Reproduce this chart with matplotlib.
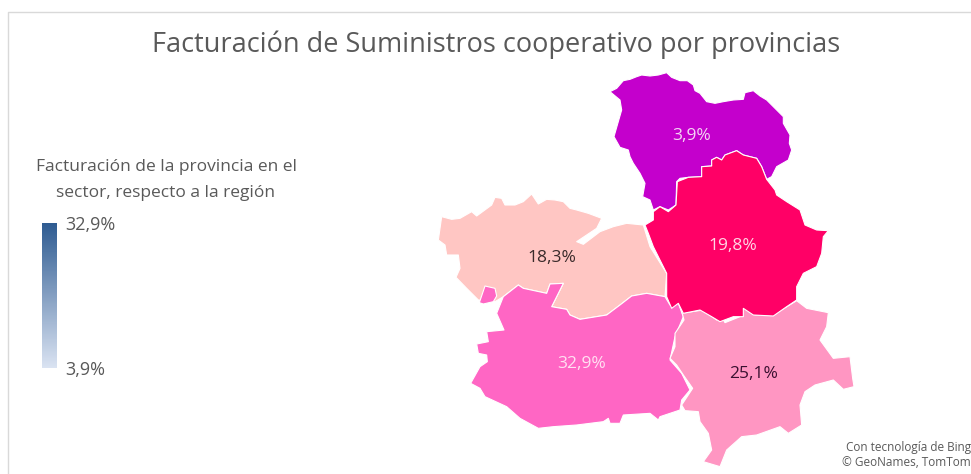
#!/usr/bin/python3
import numpy as np
from matplotlib import pyplot as plt
from matplotlib.colors import LinearSegmentedColormap

plt.rcParams['font.family'] = ['Open Sans', 'DejaVu Sans']

title = "Facturación de Suministros cooperativo por provincias"
legend_title = ["Facturación de la provincia en el", "sector, respecto a la región"]
legend_max = "32,9%"
legend_min = "3,9%"
credit = ["Con tecnología de Bing", "© GeoNames, TomTom"]

labels = ["3,9%", "19,8%", "18,3%", "32,9%", "25,1%"]
label_x = [692, 733, 552, 582, 754]
label_y = [136, 246, 258, 364, 374]
label_colors = ["#F5D5F5", "#FFD5E5", "#3A2A2A", "#FFE0F2", "#3A1030"]

# Outlines, in zoomed crop coordinates
guadalajara = [(30, 95), (50, 85), (70, 62), (90, 58), (110, 50), (125, 45), (150, 48), (175, 45),
               (200, 38), (215, 52), (240, 62), (262, 62), (280, 75), (285, 92), (300, 100),
               (320, 125), (345, 130), (370, 125), (400, 120), (430, 118), (435, 98), (460, 92),
               (480, 108), (500, 120), (525, 145), (550, 170), (550, 190), (570, 225), (568, 250),
               (575, 270), (565, 300), (530, 320), (515, 350), (500, 358), (485, 320), (470, 295),
               (430, 285), (410, 272), (375, 285), (365, 300), (350, 292), (335, 300), (335, 318),
               (305, 320), (305, 350), (265, 352), (240, 355), (230, 365), (228, 435), (205, 450),
               (180, 440), (160, 450), (150, 420), (128, 410), (135, 370), (120, 340), (100, 310),
               (90, 290), (85, 270), (60, 262), (42, 230), (52, 195), (65, 150), (60, 120)]
cuenca = [(135, 495), (160, 480), (160, 455), (180, 440), (205, 455), (228, 435), (232, 365),
          (265, 352), (305, 350), (305, 320), (335, 318), (335, 300), (350, 292), (365, 300),
          (375, 285), (410, 272), (430, 285), (470, 295), (485, 320), (500, 358), (525, 390),
          (530, 405), (560, 425), (600, 450), (615, 495), (650, 510), (685, 512), (670, 530),
          (665, 580), (650, 620), (610, 640), (590, 680), (590, 720), (560, 740), (520, 768),
          (460, 765), (430, 745), (430, 770), (400, 770), (360, 785), (335, 770), (300, 750),
          (250, 760), (235, 730), (215, 745), (200, 710), (200, 640), (160, 560), (145, 520)]
toledo = [(25, 150), (35, 80), (65, 88), (90, 85), (125, 65), (140, 78), (185, 45), (195, 22),
          (215, 25), (225, 45), (255, 45), (280, 35), (305, 12), (325, 42), (350, 28), (375, 30),
          (400, 35), (420, 55), (440, 60), (475, 70), (515, 85), (500, 115), (440, 155), (460, 163),
          (510, 125), (550, 110), (590, 100), (640, 105), (660, 170), (710, 250), (705, 320),
          (650, 310), (605, 318), (570, 345), (530, 375), (450, 388), (420, 375), (410, 358),
          (365, 350), (380, 320), (400, 280), (360, 282), (350, 310), (280, 295), (265, 285),
          (220, 320), (195, 335), (145, 330), (110, 295), (78, 262), (90, 235), (85, 195),
          (50, 195), (45, 165)]
enclave = [(148, 338), (165, 288), (195, 295), (200, 318), (190, 335), (160, 342)]
ciudad_real = [(122, 580), (150, 530), (172, 515), (170, 495), (145, 490), (140, 462), (175, 455),
               (170, 425), (222, 420), (200, 370), (220, 320), (265, 285), (280, 295), (350, 310),
               (360, 282), (400, 280), (380, 320), (365, 350), (410, 358), (420, 375), (450, 388),
               (530, 375), (570, 345), (605, 318), (650, 310), (705, 320), (720, 345), (745, 340),
               (760, 380), (735, 440), (720, 510), (755, 550), (780, 600), (755, 630), (750, 660),
               (690, 680), (685, 690), (660, 670), (580, 675), (570, 700), (540, 700), (535, 685),
               (520, 695), (440, 705), (370, 710), (325, 715), (270, 685), (230, 650), (165, 620),
               (150, 595)]
albacete = [(30, 205), (45, 170), (45, 130), (72, 90), (60, 45), (75, 68), (130, 60), (170, 90),
            (185, 80), (195, 98), (240, 80), (250, 55), (270, 55), (285, 75), (340, 75), (410, 32),
            (440, 55), (505, 68), (500, 110), (480, 150), (520, 205), (570, 200), (578, 265),
            (582, 290), (550, 298), (520, 270), (465, 285), (435, 305), (420, 345), (425, 405),
            (385, 430), (360, 410), (290, 435), (245, 440), (200, 480), (180, 530), (130, 515),
            (155, 480), (145, 430), (120, 395), (115, 365), (75, 362), (65, 345), (98, 295),
            (70, 255), (50, 225)]


def crop(points, x0, y0):
    # crops were scaled 3x
    return [x0 + x / 3 for x, y in points], [y0 + y / 3 for x, y in points]


fig = plt.figure(figsize=(9.71, 4.74), dpi=100)
ax = fig.add_axes([0, 0, 1, 1])

# chart frame, open to the right and bottom
ax.plot([8, 8, 971], [474, 12, 12], color="#D9D9D9", lw=1)

shapes = [(toledo, 430, 190, "#FFC6C3"), (enclave, 430, 190, "#FF66C4"),
          (ciudad_real, 430, 190, "#FF66C4"), (albacete, 660, 290, "#FF96C2"),
          (guadalajara, 600, 60, "#C400CC"), (cuenca, 600, 60, "#FF0066")]
for points, x0, y0, color in shapes:
    xs, ys = crop(points, x0, y0)
    ax.fill(xs, ys, facecolor=color, edgecolor="white", lw=0.8, joinstyle='round')

for text, x, y, color in zip(labels, label_x, label_y, label_colors):
    ax.text(x, y, text, color=color, fontsize=12.5, ha='center', va='center')

ax.text(496, 45, title, color="#595959", fontsize=19.5, ha='center', va='center')
ax.text(166, 167, legend_title[0], color="#595959", fontsize=12.5, ha='center', va='center')
ax.text(166, 193, legend_title[1], color="#595959", fontsize=12.5, ha='center', va='center')

cmap = LinearSegmentedColormap.from_list("legend", ["#2F5C92", "#DAE3F2"])
ax.imshow(np.linspace(0, 1, 145).reshape(-1, 1), cmap=cmap, extent=[42, 57, 368, 223],
          aspect='auto', zorder=2)
ax.set_xlim(0, 971)
ax.set_ylim(474, 0)
ax.axis('off')

ax.text(65, 225, legend_max, color="#595959", fontsize=13, ha='left', va='center')
ax.text(65, 370, legend_min, color="#595959", fontsize=13, ha='left', va='center')

ax.text(846, 447, credit[0], color="#595959", fontsize=8.5, ha='left', va='center')
ax.text(842, 463, credit[1], color="#595959", fontsize=8.5, ha='left', va='center')

fig.savefig('out.png', dpi=100)
